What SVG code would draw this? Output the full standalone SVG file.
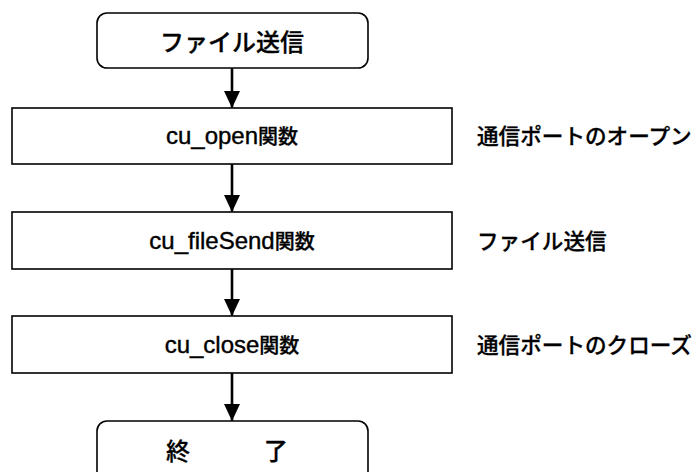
<svg xmlns="http://www.w3.org/2000/svg" width="699" height="472" viewBox="0 0 699 472">
  <style>
    .box { fill: #ffffff; stroke: #000000; stroke-width: 1.6; }
    .edge { stroke: #000000; stroke-width: 2.6; fill: none; }
    .jp { font-family: "Noto Sans CJK JP", sans-serif; font-weight: 500; fill: #000000; stroke: #000000; stroke-width: 0.3; }
    .lat { font-family: "Liberation Sans", sans-serif; font-weight: 400; font-size: 24px; stroke: #000000; stroke-width: 0.4; }
  </style>
  <defs>
    <marker id="arrow" viewBox="0 0 16 18" refX="17" refY="8" markerWidth="16" markerHeight="18" markerUnits="userSpaceOnUse" orient="auto">
      <path d="M0,0 L17,8 L0,16 Z" fill="#000000"/>
    </marker>
  </defs>

  <!-- connectors -->
  <g id="connectors">
    <line class="edge" x1="232" y1="68" x2="232" y2="108" marker-end="url(#arrow)"/>
    <line class="edge" x1="232" y1="164" x2="232" y2="212" marker-end="url(#arrow)"/>
    <line class="edge" x1="232" y1="269" x2="232" y2="316" marker-end="url(#arrow)"/>
    <line class="edge" x1="232" y1="373" x2="232" y2="421" marker-end="url(#arrow)"/>
  </g>

  <!-- start terminal -->
  <g id="start">
    <rect class="box" x="97" y="13" width="271" height="55" rx="10" ry="10"/>
    <text class="jp" x="232" y="51" font-size="24" text-anchor="middle">ファイル送信</text>
  </g>

  <!-- process steps -->
  <g id="step-open">
    <rect class="box" x="12" y="108" width="440" height="56"/>
    <text class="jp" x="232" y="144" font-size="20" text-anchor="middle"><tspan class="lat">cu_open</tspan>関数</text>
  </g>
  <g id="step-send">
    <rect class="box" x="12" y="212" width="440" height="57"/>
    <text class="jp" x="232" y="249" font-size="20" text-anchor="middle"><tspan class="lat">cu_fileSend</tspan>関数</text>
  </g>
  <g id="step-close">
    <rect class="box" x="12" y="316" width="440" height="57"/>
    <text class="jp" x="232" y="353" font-size="20" text-anchor="middle"><tspan class="lat">cu_close</tspan>関数</text>
  </g>

  <!-- end terminal -->
  <g id="end">
    <rect class="box" x="97" y="421" width="271" height="60" rx="10" ry="10"/>
    <text class="jp" x="166" y="460" font-size="24">終</text>
    <text class="jp" x="264" y="460" font-size="24">了</text>
  </g>

  <!-- side notes -->
  <g id="note-open">
    <text class="jp" x="477" y="144" font-size="21.6">通信ポートのオープン</text>
  </g>
  <g id="note-send">
    <text class="jp" x="477" y="249" font-size="21.6">ファイル送信</text>
  </g>
  <g id="note-close">
    <text class="jp" x="477" y="353" font-size="21.6">通信ポートのクローズ</text>
  </g>
</svg>
